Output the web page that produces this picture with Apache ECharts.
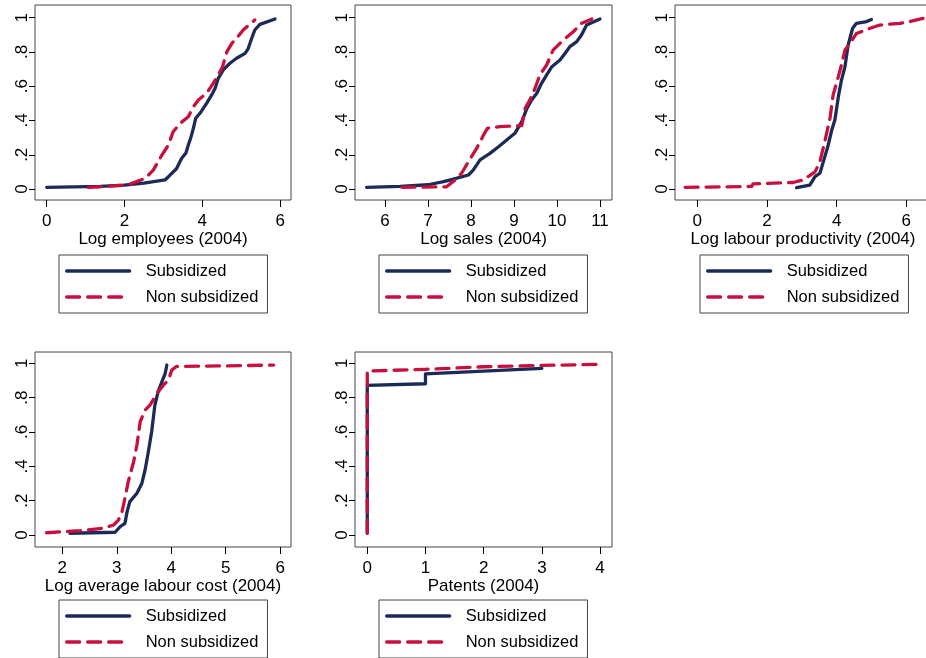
<!DOCTYPE html>
<html>
<head>
<meta charset="utf-8">
<script src="https://cdn.jsdelivr.net/npm/echarts@6/dist/echarts.min.js"></script>
<style>
html,body{margin:0;padding:0;background:#fff;}
#chart{width:926px;height:658px;}
</style>
</head>
<body>
<div id="chart"></div>
<script>
// ---------- data ----------
const seriesNames = ['Subsidized', 'Non subsidized'];
const axisTitles = ['Log employees (2004)', 'Log sales (2004)', 'Log labour productivity (2004)', 'Log average labour cost (2004)', 'Patents (2004)'];
const yTicks = [0, 0.2, 0.4, 0.6, 0.8, 1];
const xTicks1 = [0, 2, 4, 6];
const xTicks2 = [6, 7, 8, 9, 10, 11];
const xTicks3 = [0, 2, 4, 6];
const xTicks4 = [2, 3, 4, 5, 6];
const xTicks5 = [0, 1, 2, 3, 4];

// Panel 1: Log employees
const empSubX = [0, 1.37, 1.99, 2.5, 3.04, 3.13, 3.34, 3.47, 3.58, 3.64, 3.70, 3.77, 3.83, 3.94, 4.11, 4.24, 4.33, 4.41, 4.54, 4.71, 4.88, 5.10, 5.18, 5.27, 5.35, 5.48, 5.87];
const empSubY = [0.01, 0.015, 0.023, 0.035, 0.053, 0.072, 0.12, 0.18, 0.21, 0.257, 0.296, 0.354, 0.413, 0.442, 0.50, 0.549, 0.588, 0.646, 0.695, 0.734, 0.763, 0.792, 0.82, 0.88, 0.928, 0.961, 0.992];
const empNonX = [1.07, 1.37, 2.06, 2.31, 2.53, 2.74, 2.96, 3.13, 3.25, 3.43, 3.64, 3.77, 3.90, 4.11, 4.28, 4.41, 4.52, 4.63, 4.76, 4.88, 5.05, 5.35];
const empNonY = [0.01, 0.013, 0.023, 0.043, 0.062, 0.11, 0.198, 0.257, 0.334, 0.383, 0.422, 0.48, 0.52, 0.559, 0.617, 0.666, 0.714, 0.80, 0.85, 0.88, 0.928, 0.987];

// Panel 2: Log sales
const salSubX = [5.57, 6.35, 7.0, 7.36, 7.59, 7.94, 8.05, 8.21, 8.44, 8.64, 8.83, 9.02, 9.18, 9.30, 9.41, 9.53, 9.64, 9.76, 9.88, 10.07, 10.19, 10.30, 10.46, 10.57, 10.69, 11.0];
const salSubY = [0.01, 0.015, 0.025, 0.043, 0.058, 0.082, 0.11, 0.17, 0.208, 0.247, 0.286, 0.325, 0.393, 0.471, 0.52, 0.559, 0.617, 0.666, 0.714, 0.753, 0.792, 0.831, 0.86, 0.899, 0.957, 0.992];
const salNonX = [6.39, 7.43, 7.63, 7.78, 7.94, 8.13, 8.29, 8.38, 8.67, 9.18, 9.26, 9.37, 9.49, 9.60, 9.76, 9.91, 10.15, 10.38, 10.57, 10.81];
const salNonY = [0.01, 0.013, 0.053, 0.092, 0.16, 0.237, 0.315, 0.354, 0.364, 0.37, 0.471, 0.52, 0.588, 0.666, 0.724, 0.811, 0.87, 0.918, 0.967, 0.992];

// Panel 3: Log labour productivity
const prdSubX = [2.85, 3.23, 3.38, 3.52, 3.62, 3.76, 3.86, 3.95, 4.05, 4.14, 4.24, 4.33, 4.46, 4.57, 4.86, 5.0];
const prdSubY = [0.008, 0.023, 0.072, 0.092, 0.16, 0.257, 0.344, 0.403, 0.539, 0.636, 0.714, 0.84, 0.938, 0.967, 0.977, 0.99];
const prdNonX = [-0.35, 1.56, 1.6, 2.75, 3.04, 3.38, 3.52, 3.66, 3.81, 3.90, 4.05, 4.14, 4.24, 4.38, 4.57, 4.96, 5.24, 5.82, 6.10, 6.48, 6.75];
const prdNonY = [0.01, 0.015, 0.03, 0.038, 0.053, 0.10, 0.16, 0.276, 0.413, 0.549, 0.656, 0.724, 0.811, 0.85, 0.908, 0.938, 0.957, 0.967, 0.977, 0.996, 0.999];

// Panel 4: Log average labour cost
const lcSubX = [2.14, 2.97, 3.06, 3.15, 3.19, 3.24, 3.37, 3.46, 3.52, 3.58, 3.64, 3.70, 3.76, 3.83, 3.89, 3.92];
const lcSubY = [0.01, 0.016, 0.048, 0.068, 0.136, 0.194, 0.243, 0.30, 0.379, 0.485, 0.60, 0.757, 0.835, 0.893, 0.942, 0.99];
const lcNonX = [1.71, 2.33, 2.75, 2.94, 3.03, 3.09, 3.15, 3.21, 3.31, 3.37, 3.43, 3.52, 3.61, 3.74, 3.86, 3.95, 4.01, 4.10, 5.0, 5.88];
const lcNonY = [0.013, 0.025, 0.04, 0.058, 0.087, 0.126, 0.214, 0.31, 0.427, 0.524, 0.66, 0.728, 0.757, 0.825, 0.874, 0.903, 0.961, 0.982, 0.985, 0.99];

// Panel 5: Patents
const patSubX = [0, 0, 1, 1, 2, 3];
const patSubY = [0.01, 0.872, 0.881, 0.939, 0.955, 0.971];
const patNonX = [0, 0, 1, 2, 3, 4];
const patNonY = [0.01, 0.955, 0.965, 0.98, 0.988, 0.994];

// ---------- build ----------
const FONT = '"Liberation Sans", Arial, sans-serif';
const NAVY = '#1b2a57';
const RED = '#c8103e';

const panels = [
  {grid:{left:35, top:5, width:256, height:195}, xMin:-0.30, xMax:6.28, yMin:-0.064, yMax:1.074, ticks:xTicks1, sub:[empSubX, empSubY], non:[empNonX, empNonY], legend:{left:59, top:255}, nameGap:27},
  {grid:{left:355, top:5, width:257, height:195}, xMin:5.30, xMax:11.28, yMin:-0.064, yMax:1.074, ticks:xTicks2, sub:[salSubX, salSubY], non:[salNonX, salNonY], legend:{left:379, top:255}, nameGap:27},
  {grid:{left:675, top:5, width:256, height:195}, xMin:-0.64, xMax:6.71, yMin:-0.064, yMax:1.074, ticks:xTicks3, sub:[prdSubX, prdSubY], non:[prdNonX, prdNonY], legend:{left:700, top:255}, nameGap:27},
  {grid:{left:35, top:352, width:256, height:195}, xMin:1.498, xMax:6.20, yMin:-0.07, yMax:1.066, ticks:xTicks4, sub:[lcSubX, lcSubY], non:[lcNonX, lcNonY], legend:{left:59, top:600}, nameGap:25},
  {grid:{left:355, top:352, width:257, height:195}, xMin:-0.211, xMax:4.205, yMin:-0.07, yMax:1.066, ticks:xTicks5, sub:[patSubX, patSubY], non:[patNonX, patNonY], legend:{left:379, top:600}, nameGap:25}
];

const zip = (xs, ys) => xs.map((x, i) => [x, ys[i]]);
const yFmt = v => (v === 0 ? '0' : v === 1 ? '1' : String(+v.toFixed(1)).replace(/^0\./, '.'));

const option = {
  backgroundColor: '#fff',
  animation: false,
  textStyle: {fontFamily: FONT},
  grid: [], xAxis: [], yAxis: [], series: [], legend: []
};

panels.forEach((p, i) => {
  option.grid.push(Object.assign({show:true, borderColor:'#444', borderWidth:1, backgroundColor:'#fff', containLabel:false, outerBoundsMode:'none'}, p.grid));
  option.xAxis.push({
    type:'value', gridIndex:i, min:p.xMin, max:p.xMax,
    name: axisTitles[i], nameLocation:'middle', nameGap:p.nameGap,
    nameTextStyle:{fontSize:17, color:'#000', fontFamily:FONT},
    axisLine:{show:false, onZero:false},
    axisTick:{show:true, length:7, lineStyle:{color:'#000', width:1}, customValues:p.ticks},
    axisLabel:{show:true, fontSize:17, color:'#000', margin:13, fontFamily:FONT, customValues:p.ticks, formatter: v => String(v)},
    splitLine:{show:false}
  });
  option.yAxis.push({
    type:'value', gridIndex:i, min:p.yMin, max:p.yMax,
    axisLine:{show:false, onZero:false},
    axisTick:{show:true, length:6, lineStyle:{color:'#000', width:1}, customValues:yTicks},
    axisLabel:{show:true, fontSize:17, color:'#000', margin:4, rotate:90, fontFamily:FONT, customValues:yTicks, formatter:yFmt},
    splitLine:{show:false}
  });
  option.series.push({
    name: seriesNames[0], type:'line', xAxisIndex:i, yAxisIndex:i,
    data: zip(p.sub[0], p.sub[1]), showSymbol:false, symbol:'none', smooth:false,
    lineStyle:{color:NAVY, width:3.3, type:'solid', cap:'round', join:'round'},
    itemStyle:{color:NAVY}, z:2
  });
  option.series.push({
    name: seriesNames[1], type:'line', xAxisIndex:i, yAxisIndex:i,
    data: zip(p.non[0], p.non[1]), showSymbol:false, symbol:'none', smooth:false,
    lineStyle:{color:RED, width:3.3, type:[13, 8], cap:'round', join:'round'},
    itemStyle:{color:RED}, z:3
  });
  option.legend.push({
    left:p.legend.left, top:p.legend.top, orient:'vertical',
    data: seriesNames, selectedMode:false,
    itemWidth:63, itemHeight:14, itemGap:8,
    padding:[7, 9, 7, 6],
    borderColor:'#444', borderWidth:1, borderRadius:0, backgroundColor:'#fff',
    itemStyle:{opacity:0, borderWidth:0},
    lineStyle:{width:3.3, cap:'round'},
    textStyle:{fontSize:16.5, color:'#000', fontFamily:FONT, padding:[0, 0, 0, 11], lineHeight:18}
  });
});

const chart = echarts.init(document.getElementById('chart'), null, {renderer:'canvas'});
chart.setOption(option);
</script>
</body>
</html>
